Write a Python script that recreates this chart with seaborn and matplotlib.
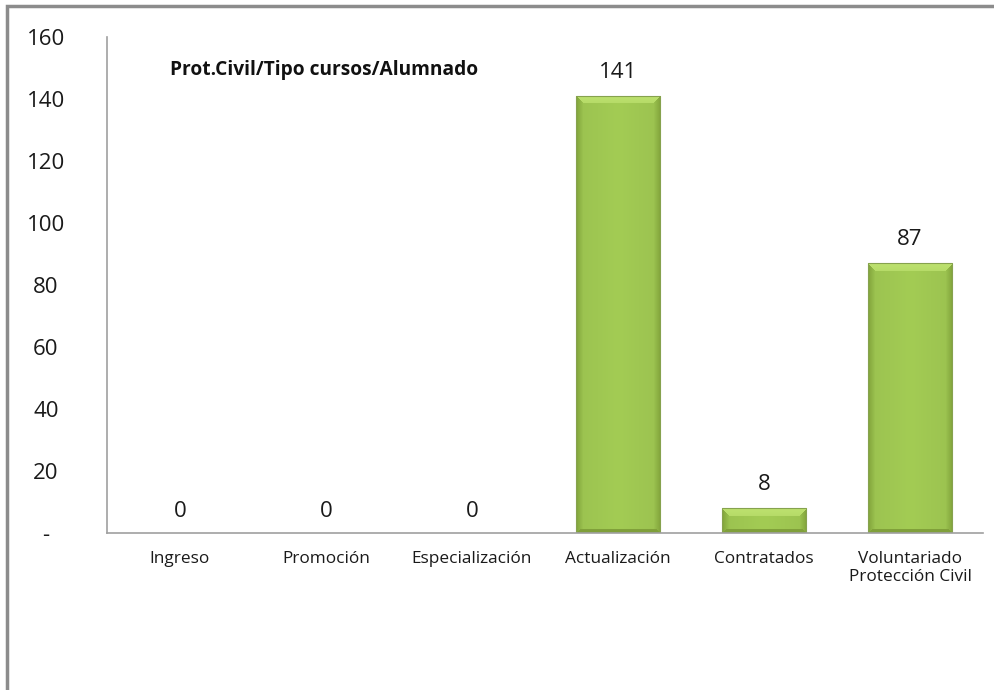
import matplotlib
matplotlib.use("Agg")
import matplotlib.pyplot as plt
import seaborn as sns
import pandas as pd
import numpy as np
from matplotlib.patches import Rectangle

categories = ["Ingreso", "Promoción", "Especialización", "Actualización",
              "Contratados", "Voluntariado\nProtección Civil"]
values = [0, 0, 0, 141, 8, 87]
yticks = [0, 20, 40, 60, 80, 100, 120, 140, 160]
ytick_labels = ["-", "20", "40", "60", "80", "100", "120", "140", "160"]
title = "Prot.Civil/Tipo cursos/Alumnado"

sns.set_theme(style="white")
plt.rcParams["font.family"] = ["Open Sans", "DejaVu Sans"]

df = pd.DataFrame({"cat": categories, "val": values})

fig = plt.figure(figsize=(9.95, 6.9), dpi=100)
# outer frame of the chart area
fig.patches.append(Rectangle((7/995, -0.1), 1.2, 1.1 - 6/690, transform=fig.transFigure,
                             fill=False, edgecolor="#8c8c8c", linewidth=2.5, zorder=0))
ax = fig.add_axes([107/995, 1 - 533/690, (983 - 107)/995, (533 - 37)/690])

sns.barplot(data=df, x="cat", y="val", ax=ax, color="#a2cb52", width=0.58,
            edgecolor="#86a24e", linewidth=0.8, saturation=1)

ax.set_ylim(0, 160)
xlim = ax.get_xlim()
ax.set_xlim(xlim)

# bevelled gradient fill, clipped to each bar patch
c_face = np.array([163, 204, 84]) / 255
c_top = np.array([190, 226, 112]) / 255
c_side = np.array([128, 162, 58]) / 255
c_bot = np.array([128, 160, 58]) / 255
bev = 8
for p in ax.patches:
    h = p.get_height()
    if h <= 0:
        p.set_linewidth(0)
        continue
    x0, y0 = p.get_x(), p.get_y()
    w = p.get_width()
    (px0, py0), (px1, py1) = ax.transData.transform([(x0, y0), (x0 + w, y0 + h)])
    W = max(int(round(px1 - px0)), 2)
    H = max(int(round(py1 - py0)), 2)
    xs = np.arange(W) + 0.5
    ys = np.arange(H) + 0.5
    X, Y = np.meshgrid(xs, ys)
    dl, dr, dt, db = X, W - X, Y, H - Y
    dside = np.minimum(dl, dr)
    img = np.empty((H, W, 3))
    shade = 1 - 0.05 * np.abs((X / W) - 0.5) * 2
    img[:] = c_face * shade[..., None]
    side = dside < bev
    sw = np.clip(dside / bev, 0, 1)[..., None]
    img = np.where(side[..., None], c_side * (1 - sw) + c_face * sw * 0.97, img)
    bot = (db < bev * 0.5) & (db < dside)
    img = np.where(bot[..., None], c_bot, img)
    top = (dt < bev) & (dt <= dside)
    tw = np.clip(dt / bev, 0, 1)[..., None]
    img = np.where(top[..., None], c_top * (1 - 0.3 * tw) + c_face * 0.3 * tw, img)
    im = ax.imshow(np.clip(img, 0, 1), extent=(x0, x0 + w, y0, y0 + h), aspect="auto",
                   origin="upper", interpolation="bilinear", zorder=p.get_zorder() + 0.1)
    im.set_clip_path(p)
    p.set_facecolor("none")
    p.set_zorder(p.get_zorder() + 0.2)

ax.set_xlim(xlim)
ax.set_ylim(0, 160)
ax.set_yticks(yticks)
ax.set_yticklabels(ytick_labels, fontsize=16, color="#1a1a1a")
ax.tick_params(axis="y", length=0, pad=44)
ax.tick_params(axis="x", length=0, pad=13, labelsize=12.4, labelcolor="#1a1a1a")
for lab in ax.get_yticklabels():
    lab.set_horizontalalignment("center")
ax.set_xlabel("")
ax.set_ylabel("")

for s in ["top", "right"]:
    ax.spines[s].set_visible(False)
for s in ["left", "bottom"]:
    ax.spines[s].set_color("#a0a0a0")
    ax.spines[s].set_linewidth(1.2)

for i, v in enumerate(values):
    ax.annotate(str(v), (i, v), xytext=(0, 17 if v > 0 else 15.5), textcoords="offset points",
                ha="center", va="center", fontsize=16, color="#1a1a1a")

ax.text(170/995, 1 - 70/690, title, transform=fig.transFigure, fontsize=13.8,
        fontweight="bold", color="#111111", va="center", ha="left")

fig.savefig("out.png", dpi=100)
